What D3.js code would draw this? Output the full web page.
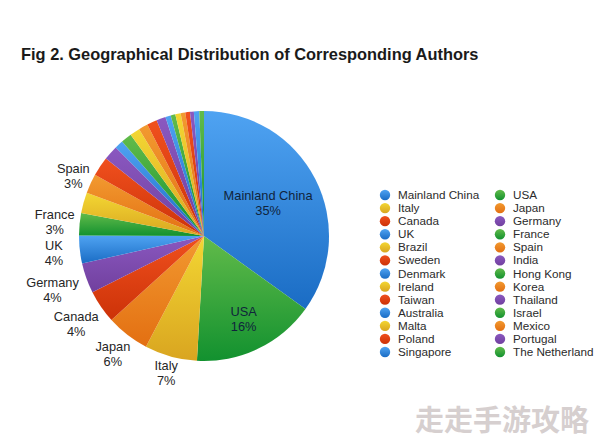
<!DOCTYPE html>
<html>
<head>
<meta charset="utf-8">
<script src="https://cdn.jsdelivr.net/npm/d3@7"></script>
<style>
    html, body { margin: 0; padding: 0; background: #fff; }
    svg { display: block; }
    text { font-family: "Liberation Sans", Arial, sans-serif; }
</style>
</head>
<body>
<svg id="chart" width="594" height="444"></svg>
<script>
const countries = ['Mainland China', 'USA', 'Italy', 'Japan', 'Canada', 'Germany', 'UK', 'France', 'Brazil',
    'Spain', 'Sweden', 'India', 'Denmark', 'Hong Kong', 'Ireland', 'Korea', 'Taiwan', 'Thailand',
    'Australia', 'Israel', 'Malta', 'Mexico', 'Poland', 'Portugal', 'Singapore', 'The Netherland'];
const shares = [35, 16, 6.8, 5.6, 4.3, 3.9, 3.6, 2.9, 2.7, 2.5, 2.5, 1.9, 1.1, 1.4, 1.3, 1.2, 1.3, 1.2,
    0.7, 0.6, 0.7, 0.6, 0.6, 0.5, 0.7, 0.6];
const shownLabels = ['Mainland China', 'USA', 'Italy', 'Japan', 'Canada', 'Germany', 'UK', 'France', 'Spain'];
const shownPercents = ['35%', '16%', '7%', '6%', '4%', '4%', '4%', '3%', '3%'];

const WIDTH    = 594;
const HEIGHT   = 444;
const CENTER_X = 204;
const CENTER_Y = 236;
const RADIUS   = 125;

// how far from the centre each label sits
const LABEL_RADIUS = {
    'Mainland China': 72, 'USA': 92, 'Italy': 142, 'Japan': 149, 'Canada': 155,
    'Germany': 161, 'UK': 151, 'France': 150, 'Spain': 144
};

// [top, bottom] of the vertical shading, cycled over the slices
const SHADES = [
    ['#4fa3f2', '#1a6cc4'],
    ['#62bb4a', '#12912f'],
    ['#f3d733', '#d9a520'],
    ['#f29a30', '#e36f12'],
    ['#f0501e', '#cc3208'],
    ['#8a58c0', '#71409e']
];

const svg = d3.select('#chart');

const defs = svg.append('defs');
SHADES.forEach((shade, i) => {
    let gradient = defs.append('linearGradient')
        .attr('id', `shade-${i}`)
        .attr('x1', 0).attr('y1', 0)
        .attr('x2', 0).attr('y2', 1);
    gradient.append('stop').attr('offset', '0%').attr('stop-color', shade[0]);
    gradient.append('stop').attr('offset', '100%').attr('stop-color', shade[1]);
});

svg.append('text')
    .attr('x', 21)
    .attr('y', 60)
    .attr('font-size', 16.4)
    .attr('font-weight', 'bold')
    .attr('fill', '#1a1a1a')
    .text('Fig 2. Geographical Distribution of Corresponding Authors');

const pie = d3.pie().sort(null).value((d, i) => shares[i]);
const arc = d3.arc().innerRadius(0).outerRadius(RADIUS);
const slices = pie(countries);

const plot = svg.append('g')
    .attr('transform', `translate(${CENTER_X},${CENTER_Y})`);

plot.selectAll('path')
    .data(slices)
    .join('path')
    .attr('d', arc)
    .attr('fill', (d, i) => `url(#shade-${i % SHADES.length})`);

shownLabels.forEach((name, i) => {
    let slice = slices[countries.indexOf(name)];
    let r = LABEL_RADIUS[name];
    let pos = d3.arc().innerRadius(r).outerRadius(r).centroid(slice);
    let label = plot.append('text')
        .attr('text-anchor', 'middle')
        .attr('font-size', 12.8)
        .attr('fill', i < 2 ? '#10243c' : '#262626');
    label.append('tspan').attr('x', pos[0]).attr('y', pos[1] - 3).text(name);
    label.append('tspan').attr('x', pos[0]).attr('y', pos[1] + 12).text(shownPercents[i]);
});

// legend runs left to right over two columns
const rowCount = Math.ceil(countries.length / 2);
const rowY = d3.scalePoint().domain(d3.range(rowCount)).range([195, 352]);
const colX = d3.scalePoint().domain([0, 1]).range([385, 500]);

const legend = svg.append('g')
    .selectAll('g')
    .data(countries)
    .join('g')
    .attr('transform', (d, i) => `translate(${colX(i % 2)},${rowY(Math.floor(i / 2))})`);

legend.append('circle')
    .attr('r', 5.2)
    .attr('fill', (d, i) => `url(#shade-${i % SHADES.length})`);

legend.append('text')
    .attr('x', 13)
    .attr('y', 4)
    .attr('font-size', 11.7)
    .attr('fill', '#2b2b2b')
    .text(d => d);

svg.append('text')
    .attr('x', 415)
    .attr('y', 431)
    .style('font-family', '"Noto Sans CJK SC"')
    .attr('font-size', 29)
    .attr('font-weight', 'bold')
    .attr('fill', '#d6cfcf')
    .text('走走手游攻略');
</script>
</body>
</html>
